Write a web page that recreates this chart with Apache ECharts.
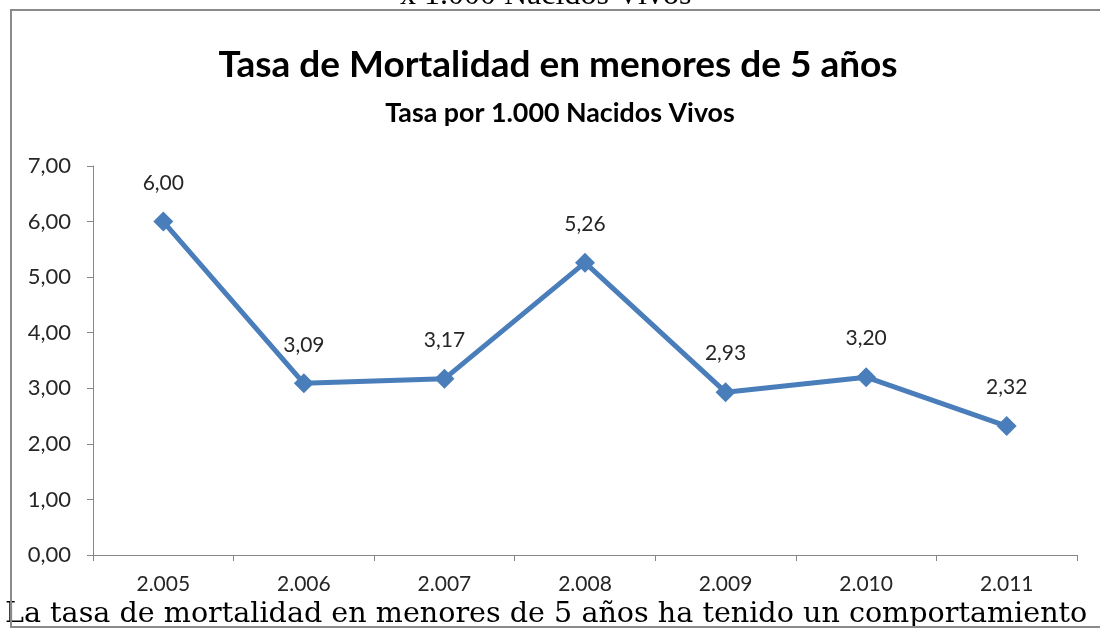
<!DOCTYPE html>
<html lang="es">
<head>
    <meta charset="UTF-8">
    <title>Tasa de Mortalidad en menores de 5 años</title>
    <script src="https://cdn.jsdelivr.net/npm/echarts@6/dist/echarts.min.js"></script>
    <style>
        html, body { margin: 0; padding: 0; background: #fff; }
        #main { width: 1100px; height: 636px; }
    </style>
</head>
<body>
<div id="main"></div>
<script type="text/javascript">
    // datos
    var years = ['2.005', '2.006', '2.007', '2.008', '2.009', '2.010', '2.011'];
    var rates = [6.00, 3.09, 3.17, 5.26, 2.93, 3.20, 2.32];

    var titleText = 'Tasa de Mortalidad en menores de 5 años';
    var subText = 'Tasa por 1.000 Nacidos Vivos';
    var topText = 'x 1.000 Nacidos Vivos';
    var bottomText = 'La tasa de mortalidad en menores de 5 años ha tenido un comportamiento';

    function coma(v) {
        return Number(v).toFixed(2).replace('.', ',');
    }

    var myChart = echarts.init(document.getElementById('main'));
    var option = {
        backgroundColor: '#fff',
        animation: false,
        title: [{
            text: titleText,
            left: 553,
            top: 42,
            textAlign: 'center',
            textStyle: {
                fontFamily: 'Lato',
                fontWeight: 'bold',
                fontSize: 37,
                color: '#000'
            }
        }, {
            text: subText,
            left: 555,
            top: 95,
            textAlign: 'center',
            textStyle: {
                fontFamily: 'Lato',
                fontWeight: 'bold',
                fontSize: 26.8,
                color: '#000'
            }
        }],
        grid: {
            left: 93,
            right: 23,
            top: 166,
            bottom: 81
        },
        xAxis: {
            type: 'category',
            data: years,
            boundaryGap: true,
            axisLine: { lineStyle: { color: '#868686', width: 1 } },
            axisTick: { show: true, length: 6, lineStyle: { color: '#868686' } },
            axisLabel: {
                margin: 19,
                fontFamily: 'Lato',
                fontSize: 21,
                color: '#262626'
            }
        },
        yAxis: {
            type: 'value',
            min: 0,
            max: 7,
            interval: 1,
            splitLine: { show: false },
            axisLine: { show: true, lineStyle: { color: '#868686', width: 1 } },
            axisTick: { show: true, length: 6, lineStyle: { color: '#868686' } },
            axisLabel: {
                margin: 22,
                fontFamily: 'Lato',
                fontSize: 22,
                color: '#262626',
                formatter: function (v) { return coma(v); }
            }
        },
        series: [{
            name: 'Tasa',
            type: 'line',
            data: rates,
            symbol: 'diamond',
            symbolSize: 20,
            lineStyle: { color: '#4a7ebb', width: 5 },
            itemStyle: { color: '#4a7ebb' },
            label: {
                show: true,
                position: 'top',
                distance: 18,
                fontFamily: 'Lato',
                fontSize: 21,
                color: '#262626',
                formatter: function (p) { return coma(p.value); }
            }
        }],
        graphic: [{
            type: 'text',
            left: 400,
            top: -20,
            style: {
                text: topText,
                fontFamily: 'Liberation Serif',
                fontSize: 32,
                fill: '#000'
            }
        }, {
            type: 'text',
            left: 5,
            top: 600,
            style: {
                text: bottomText,
                fontFamily: 'DejaVu Serif',
                fontSize: 28.6,
                fill: '#000'
            }
        }, {
            // marco del grafico
            type: 'rect',
            z: 100,
            shape: { x: 11, y: 10, width: 1200, height: 617 },
            style: { fill: 'none', stroke: '#8a8a8a', lineWidth: 2 }
        }]
    };
    myChart.setOption(option);
</script>
</body>
</html>
